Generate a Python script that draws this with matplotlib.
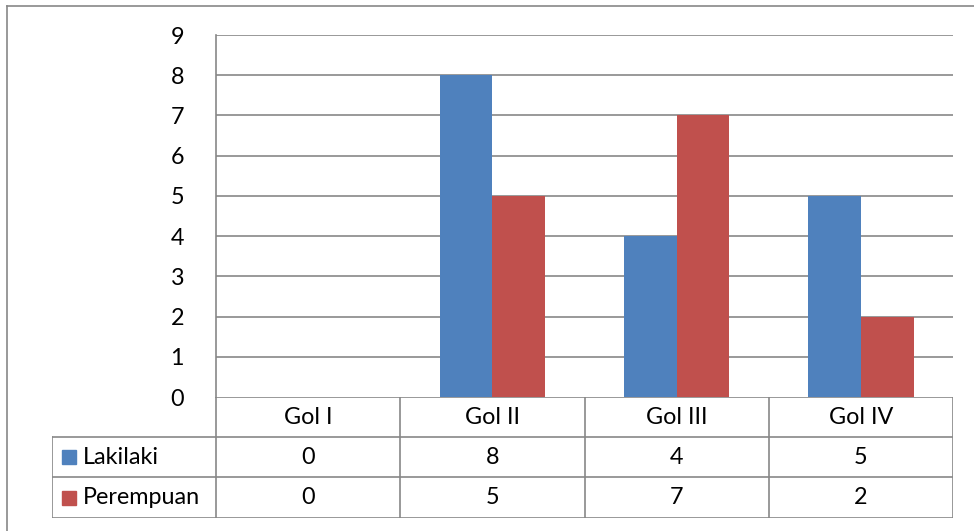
import matplotlib
matplotlib.use("Agg")
import matplotlib.pyplot as plt
from matplotlib.lines import Line2D
from matplotlib.patches import Rectangle
import numpy as np

categories = ["Gol I", "Gol II", "Gol III", "Gol IV"]
series_names = ["Lakilaki", "Perempuan"]
lakilaki = [0, 8, 4, 5]
perempuan = [0, 5, 7, 2]
y_ticks = [0, 1, 2, 3, 4, 5, 6, 7, 8, 9]
colors = ["#4F81BD", "#C0504D"]
grid_c = "#878787"

W, H = 974, 531
plt.rcParams['font.family'] = ['Lato', 'DejaVu Sans']
FS = 16.8
fig = plt.figure(figsize=(W / 100, H / 100), dpi=100)

def fx(px):
    return px / W
def fy(py):
    return 1 - py / H

LW = 1.2
# outer frame
fig.add_artist(Line2D([fx(7), 1.0], [fy(6), fy(6)], color=grid_c, lw=LW))
fig.add_artist(Line2D([fx(7), fx(7)], [fy(6), 0.0], color=grid_c, lw=LW))

L, R, T, B = 216, 953, 35, 397
ax = fig.add_axes([fx(L), fy(B), fx(R) - fx(L), fy(T) - fy(B)])
x = np.arange(len(categories))
bw = 1 / 3.5
ax.bar(x - bw / 2, lakilaki, bw, color=colors[0], zorder=3)
ax.bar(x + bw / 2, perempuan, bw, color=colors[1], zorder=3)
ax.set_xlim(-0.5, len(categories) - 0.5)
ax.set_ylim(0, 9)
ax.set_yticks(y_ticks)
ax.set_yticklabels([str(v) for v in y_ticks], fontsize=FS)
ax.tick_params(axis='y', length=0, pad=23)
ax.set_xticks([])
for sp in ["top", "right", "bottom"]:
    ax.spines[sp].set_visible(False)
ax.spines["left"].set_color(grid_c)
ax.spines["left"].set_linewidth(LW)
for v in y_ticks[1:]:
    ax.axhline(v, color=grid_c, lw=LW, zorder=1)

# data table axes
TL, TB = 52, 518
legw = (L - TL) / ((R - L) / 4)
tax = fig.add_axes([fx(TL), fy(TB), fx(R) - fx(TL), fy(B) - fy(TB)])
tax.set_xlim(-0.5 - legw, len(categories) - 0.5)
row_edges = [0, (437 - B) / (TB - B) * 3, (477 - B) / (TB - B) * 3, 3]
tax.set_ylim(3, 0)
tax.axis("off")
lk = dict(color=grid_c, lw=LW, solid_capstyle="projecting")
left_edge = -0.5 - legw
# horizontal lines
tax.plot([-0.5, 3.5], [row_edges[0]] * 2, **lk)
for r in row_edges[1:]:
    tax.plot([left_edge, 3.5], [r, r], **lk)
# vertical lines
for xv in [-0.5, 0.5, 1.5, 2.5, 3.5]:
    tax.plot([xv, xv], [0, 3], **lk)
tax.plot([left_edge, left_edge], [row_edges[1], 3], **lk)

for i, c in enumerate(categories):
    tax.text(i, (row_edges[0] + row_edges[1]) / 2, c, ha="center", va="center", fontsize=FS)
for s, (name, vals) in enumerate(zip(series_names, [lakilaki, perempuan])):
    yc = (row_edges[s + 1] + row_edges[s + 2]) / 2
    for i, v in enumerate(vals):
        tax.text(i, yc, str(v), ha="center", va="center", fontsize=FS)
    # legend key
    ky_px = B + (yc / 3) * (TB - B)
    fig.add_artist(Rectangle((fx(62), fy(ky_px + 7)), fx(14), fy(0) - fy(14),
                             color=colors[s], transform=fig.transFigure))
    fig.text(fx(83), fy(ky_px), name, ha="left", va="center", fontsize=FS)

fig.savefig("out.png", dpi=100)
